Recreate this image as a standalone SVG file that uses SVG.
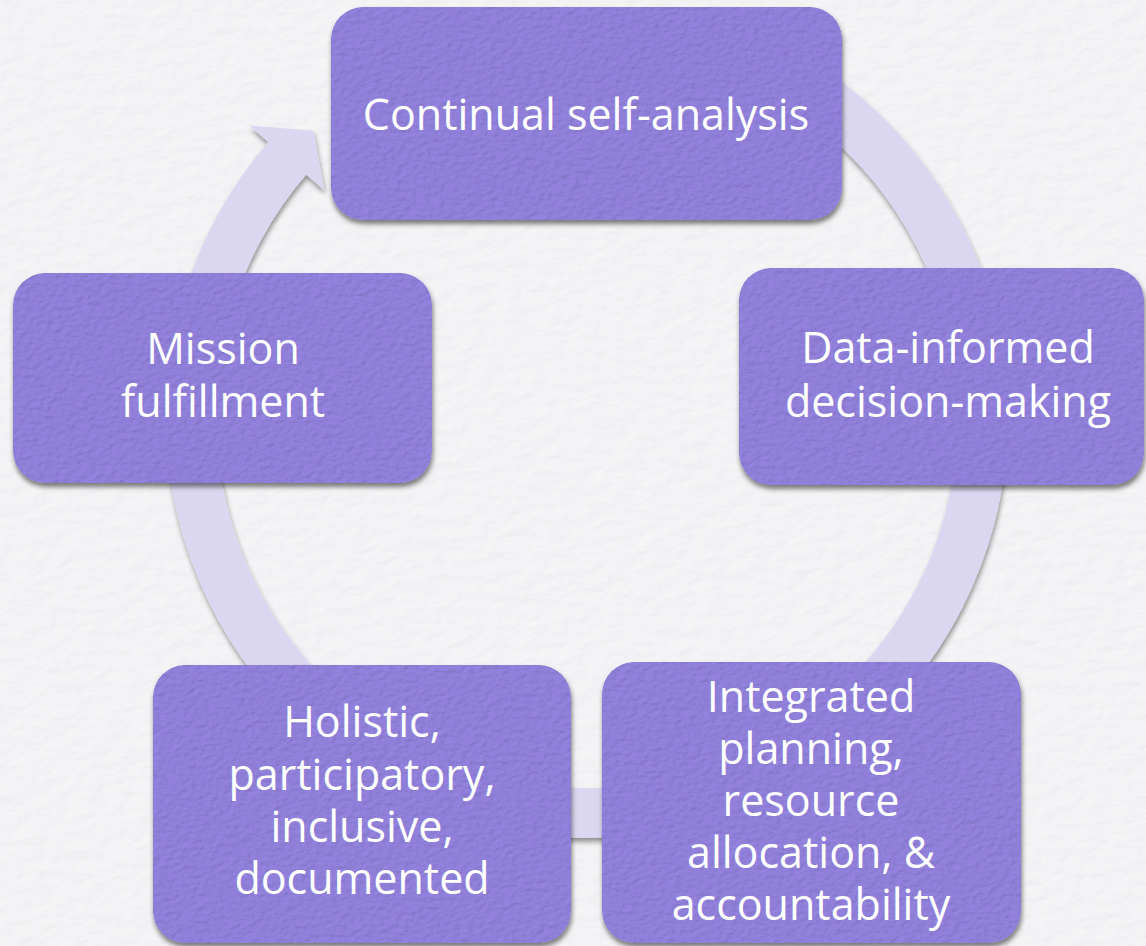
<svg xmlns="http://www.w3.org/2000/svg" width="1146" height="946" viewBox="0 0 1146 946">
  <defs>
    <filter id="bgtex" x="0" y="0" width="100%" height="100%">
      <feTurbulence type="fractalNoise" baseFrequency="0.05 0.09" numOctaves="3" seed="7" result="n"/>
      <feDiffuseLighting in="n" surfaceScale="1.5" lighting-color="#ffffff" result="l">
        <feDistantLight azimuth="225" elevation="60"/>
      </feDiffuseLighting>
      <feComposite in="l" in2="SourceGraphic" operator="arithmetic" k1="0.25" k3="0.8" result="t"/>
      <feComposite in="t" in2="SourceAlpha" operator="in"/>
    </filter>
    <filter id="boxfx" x="-5%" y="-5%" width="112%" height="115%">
      <feTurbulence type="fractalNoise" baseFrequency="0.14 0.22" numOctaves="3" seed="3" result="n"/>
      <feDiffuseLighting in="n" surfaceScale="2.2" lighting-color="#ffffff" result="l">
        <feDistantLight azimuth="225" elevation="55"/>
      </feDiffuseLighting>
      <feComposite in="l" in2="SourceGraphic" operator="arithmetic" k1="0.35" k3="0.74" result="t"/>
      <feComposite in="t" in2="SourceAlpha" operator="in" result="tex"/>
      <feGaussianBlur in="SourceAlpha" stdDeviation="2.5" result="b"/>
      <feOffset in="b" dx="1" dy="4" result="o"/>
      <feFlood flood-color="#000000" flood-opacity="0.5"/>
      <feComposite in2="o" operator="in" result="sh"/>
      <feMerge>
        <feMergeNode in="sh"/>
        <feMergeNode in="tex"/>
      </feMerge>
    </filter>
    <filter id="ringfx" x="-5%" y="-5%" width="110%" height="112%">
      <feGaussianBlur in="SourceAlpha" stdDeviation="2.5" result="b"/>
      <feOffset in="b" dx="1" dy="4" result="o"/>
      <feFlood flood-color="#000000" flood-opacity="0.4"/>
      <feComposite in2="o" operator="in" result="sh"/>
      <feMerge>
        <feMergeNode in="sh"/>
        <feMergeNode in="SourceGraphic"/>
      </feMerge>
    </filter>
  </defs>
  <style>
    .box { fill: #8E7ED7; filter: url(#boxfx); }
    .lbl { font-family: "Open Sans", "Noto Sans", "Liberation Sans", sans-serif; font-size: 43px; fill: #ffffff; text-anchor: middle; }
    .ring { fill: #DCD7F0; filter: url(#ringfx); }
  </style>

  <rect x="0" y="0" width="1146" height="946" fill="#F1F1F3" filter="url(#bgtex)"/>

  <g id="connectors">
    <path class="ring" d="M 730.98 21.38 A 421 421 0 1 1 268.3 141.9 L 249.4 125.6 L 313.4 130.7 L 324.3 190.3 L 306.2 174.6 A 371 371 0 1 0 713.88 68.37 Z"/>
  </g>

  <g id="node-continual">
    <rect class="box" x="331" y="7" width="511" height="213" rx="32" ry="32"/>
    <text class="lbl" x="586" y="130">Continual self-analysis</text>
  </g>

  <g id="node-data">
    <rect class="box" x="739" y="268" width="405" height="217" rx="32" ry="32"/>
    <text class="lbl" x="948" y="363">Data-informed</text>
    <text class="lbl" x="948" y="417">decision-making</text>
  </g>

  <g id="node-integrated">
    <rect class="box" x="602" y="662" width="419" height="281" rx="32" ry="32"/>
    <text class="lbl" x="811" y="712">Integrated</text>
    <text class="lbl" x="811" y="764">planning,</text>
    <text class="lbl" x="811" y="816">resource</text>
    <text class="lbl" x="811" y="868">allocation, &amp;</text>
    <text class="lbl" x="811" y="920">accountability</text>
  </g>

  <g id="node-holistic">
    <rect class="box" x="153" y="665" width="418" height="278" rx="32" ry="32"/>
    <text class="lbl" x="362" y="737">Holistic,</text>
    <text class="lbl" x="362" y="790">participatory,</text>
    <text class="lbl" x="362" y="842">inclusive,</text>
    <text class="lbl" x="362" y="894">documented</text>
  </g>

  <g id="node-mission">
    <rect class="box" x="13" y="273" width="419" height="210" rx="32" ry="32"/>
    <text class="lbl" x="223" y="364">Mission</text>
    <text class="lbl" x="223" y="417">fulfillment</text>
  </g>
</svg>
